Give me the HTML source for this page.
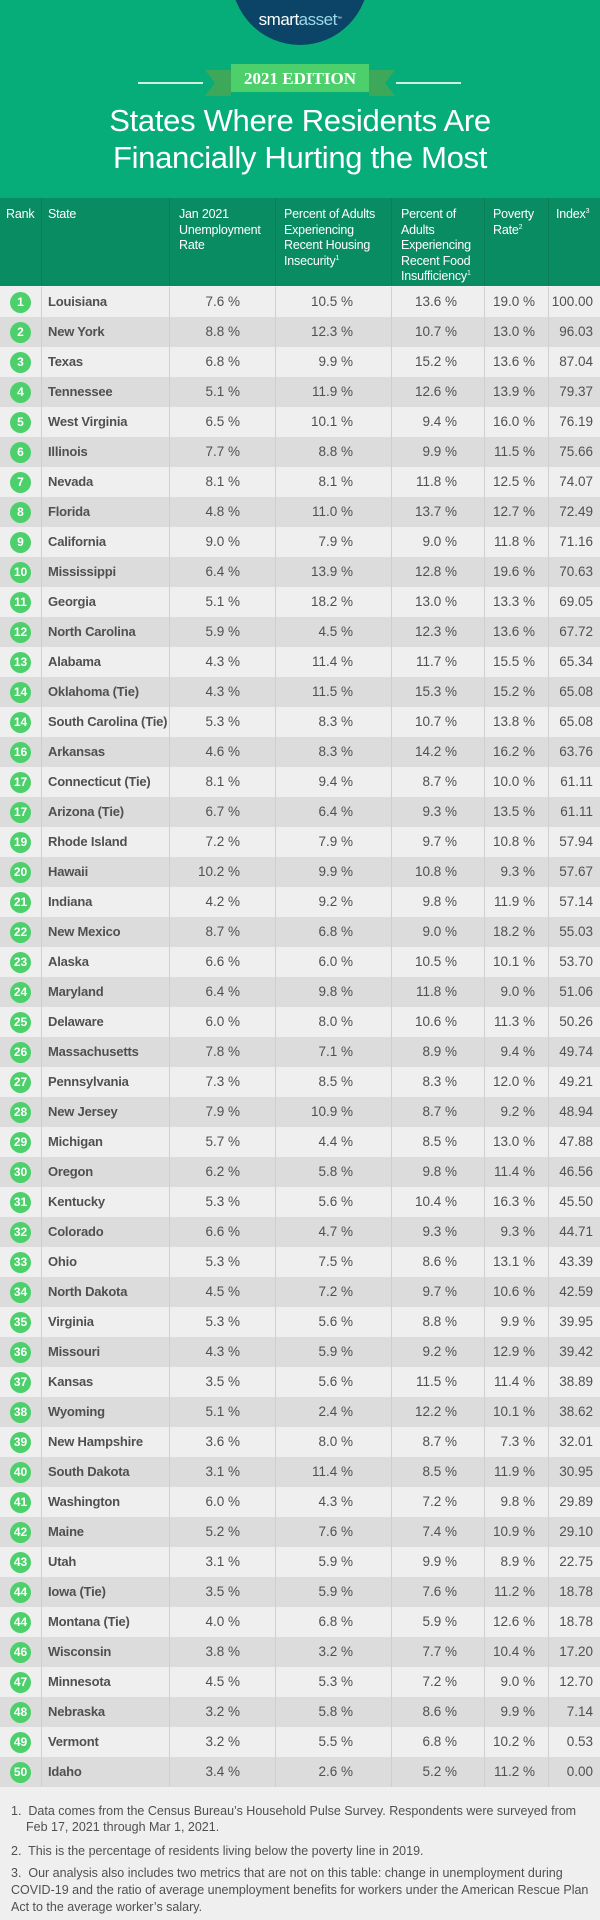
<!DOCTYPE html>
<html><head><meta charset="utf-8"><style>
*{margin:0;padding:0;box-sizing:border-box}
body{width:600px;height:1920px;background:#efefef;font-family:"Liberation Sans",sans-serif;position:relative;overflow:hidden}
#hdr{position:absolute;left:0;top:0;width:600px;height:198px;background:#07ad78}
#logo{position:absolute;left:231px;top:-95px;width:138px;height:140px;border-radius:50%;background:#0b4467}
#logotxt{position:absolute;left:0;top:10px;width:600px;text-align:center;color:#fff;font-size:17px;letter-spacing:-0.5px}
#logotxt span{color:#9fd8ea}
.line{position:absolute;top:82px;height:2px;background:#cfeede}
#title{position:absolute;left:0;top:102px;width:600px;text-align:center;color:#fff;font-size:31px;line-height:37px;font-weight:normal;letter-spacing:-0.3px}
#th{position:absolute;left:0;top:198px;width:600px;height:88px;background:#0a8c62}
.hc{position:absolute;top:9px;color:#fff;font-size:12.5px;line-height:15.5px;letter-spacing:-0.2px;white-space:nowrap}
sup{font-size:7px;line-height:0;vertical-align:5px}
.vl{position:absolute;width:1px}
.row{position:absolute;left:0;width:600px;height:30px;font-size:13.5px;color:#505050;line-height:30px}
.rk{position:absolute;left:10px;top:5px;width:21px;height:21px;border-radius:50%;background:#4dcf6c;color:#fff;font-weight:bold;font-size:12px;line-height:21px;text-align:center}
.st{position:absolute;left:48px;font-weight:bold;font-size:13px;letter-spacing:-0.2px}
.c{position:absolute;text-align:right}
.fn{position:absolute;left:11px;width:585px;font-size:12.5px;line-height:16px;color:#505050}
</style></head><body>
<div id="hdr">
<div id="logo"></div>
<div id="logotxt">smart<span>asset</span><sup style="font-size:5px">™</sup></div>
<div class="line" style="left:138px;width:65px"></div>
<div class="line" style="left:396px;width:65px"></div>
<svg style="position:absolute;left:205px;top:62px" width="190" height="36">
<polygon points="0,8 26,8 26,34 0,34 10,21" fill="#3ea85a"/>
<polygon points="190,8 164,8 164,34 190,34 180,21" fill="#3ea85a"/>
<rect x="26" y="2" width="138" height="28" fill="#4dcf6c"/>
<text x="95" y="22" text-anchor="middle" fill="#fff" font-family="Liberation Serif" font-weight="bold" font-size="17">2021 EDITION</text>
</svg>
<div id="title">States Where Residents Are<br>Financially Hurting the Most</div>
</div>
<div id="th">
<div class="hc" style="left:6px">Rank</div>
<div class="hc" style="left:48px">State</div>
<div class="hc" style="left:179px">Jan 2021<br>Unemployment<br>Rate</div>
<div class="hc" style="left:284px">Percent of Adults<br>Experiencing<br>Recent Housing<br>Insecurity<sup>1</sup></div>
<div class="hc" style="left:401px">Percent of<br>Adults<br>Experiencing<br>Recent Food<br>Insufficiency<sup>1</sup></div>
<div class="hc" style="left:493px">Poverty<br>Rate<sup>2</sup></div>
<div class="hc" style="left:556px">Index<sup>3</sup></div>
</div>
<div id="rows"></div>
<div class="fn" style="top:1803px;padding-left:15px;text-indent:-15px">1.&nbsp; Data comes from the Census Bureau’s Household Pulse Survey. Respondents were surveyed from Feb 17, 2021 through Mar 1, 2021.</div>
<div class="fn" style="top:1843px">2.&nbsp; This is the percentage of residents living below the poverty line in 2019.</div>
<div class="fn" style="top:1865px;line-height:17px">3.&nbsp; Our analysis also includes two metrics that are not on this table: change in unemployment during COVID-19 and the ratio of average unemployment benefits for workers under the American Rescue Plan Act to the average worker’s salary.</div>
<script>
var d=`1|Louisiana|7.6|10.5|13.6|19.0|100.00
2|New York|8.8|12.3|10.7|13.0|96.03
3|Texas|6.8|9.9|15.2|13.6|87.04
4|Tennessee|5.1|11.9|12.6|13.9|79.37
5|West Virginia|6.5|10.1|9.4|16.0|76.19
6|Illinois|7.7|8.8|9.9|11.5|75.66
7|Nevada|8.1|8.1|11.8|12.5|74.07
8|Florida|4.8|11.0|13.7|12.7|72.49
9|California|9.0|7.9|9.0|11.8|71.16
10|Mississippi|6.4|13.9|12.8|19.6|70.63
11|Georgia|5.1|18.2|13.0|13.3|69.05
12|North Carolina|5.9|4.5|12.3|13.6|67.72
13|Alabama|4.3|11.4|11.7|15.5|65.34
14|Oklahoma (Tie)|4.3|11.5|15.3|15.2|65.08
14|South Carolina (Tie)|5.3|8.3|10.7|13.8|65.08
16|Arkansas|4.6|8.3|14.2|16.2|63.76
17|Connecticut (Tie)|8.1|9.4|8.7|10.0|61.11
17|Arizona (Tie)|6.7|6.4|9.3|13.5|61.11
19|Rhode Island|7.2|7.9|9.7|10.8|57.94
20|Hawaii|10.2|9.9|10.8|9.3|57.67
21|Indiana|4.2|9.2|9.8|11.9|57.14
22|New Mexico|8.7|6.8|9.0|18.2|55.03
23|Alaska|6.6|6.0|10.5|10.1|53.70
24|Maryland|6.4|9.8|11.8|9.0|51.06
25|Delaware|6.0|8.0|10.6|11.3|50.26
26|Massachusetts|7.8|7.1|8.9|9.4|49.74
27|Pennsylvania|7.3|8.5|8.3|12.0|49.21
28|New Jersey|7.9|10.9|8.7|9.2|48.94
29|Michigan|5.7|4.4|8.5|13.0|47.88
30|Oregon|6.2|5.8|9.8|11.4|46.56
31|Kentucky|5.3|5.6|10.4|16.3|45.50
32|Colorado|6.6|4.7|9.3|9.3|44.71
33|Ohio|5.3|7.5|8.6|13.1|43.39
34|North Dakota|4.5|7.2|9.7|10.6|42.59
35|Virginia|5.3|5.6|8.8|9.9|39.95
36|Missouri|4.3|5.9|9.2|12.9|39.42
37|Kansas|3.5|5.6|11.5|11.4|38.89
38|Wyoming|5.1|2.4|12.2|10.1|38.62
39|New Hampshire|3.6|8.0|8.7|7.3|32.01
40|South Dakota|3.1|11.4|8.5|11.9|30.95
41|Washington|6.0|4.3|7.2|9.8|29.89
42|Maine|5.2|7.6|7.4|10.9|29.10
43|Utah|3.1|5.9|9.9|8.9|22.75
44|Iowa (Tie)|3.5|5.9|7.6|11.2|18.78
44|Montana (Tie)|4.0|6.8|5.9|12.6|18.78
46|Wisconsin|3.8|3.2|7.7|10.4|17.20
47|Minnesota|4.5|5.3|7.2|9.0|12.70
48|Nebraska|3.2|5.8|8.6|9.9|7.14
49|Vermont|3.2|5.5|6.8|10.2|0.53
50|Idaho|3.4|2.6|5.2|11.2|0.00`.split("\n");
var h="";
d.forEach(function(l,i){var f=l.split("|");var t=287+i*30;
h+='<div class="row" style="top:'+t+'px;background:'+(i%2?'#dcdcdc':'#efefef')+'">'+
'<div class="rk">'+f[0]+'</div><div class="st">'+f[1]+'</div>'+
'<div class="c" style="right:360px">'+f[2]+' %</div>'+
'<div class="c" style="right:247px">'+f[3]+' %</div>'+
'<div class="c" style="right:143px">'+f[4]+' %</div>'+
'<div class="c" style="right:65px">'+f[5]+' %</div>'+
'<div class="c" style="right:7px">'+f[6]+'</div></div>';});
[41,169,275,391,484,548].forEach(function(x){h+='<div class="vl" style="left:'+x+'px;top:198px;height:88px;background:#0b7d57"></div><div class="vl" style="left:'+x+'px;top:287px;height:1500px;background:#cfcfcf"></div>';});
document.getElementById("rows").innerHTML=h;
</script>
</body></html>
